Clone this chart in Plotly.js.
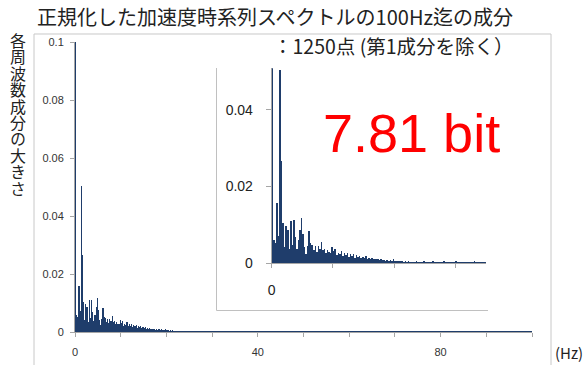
<!DOCTYPE html>
<html>
<head>
<meta charset="utf-8">
<script src="https://cdn.plot.ly/plotly-3.0.1.min.js"></script>
<style>
  html, body { margin: 0; padding: 0; background: #ffffff; }
  #chart { width: 585px; height: 365px; }
</style>
</head>
<body>
<div id="chart"></div>
<script>
// Normalised acceleration spectrum, bins of 0.25 Hz from 0 Hz up to 100 Hz.
const binStartHz = 0;
const binWidthHz = 0.25;

// 0 – 9.75 Hz
const band0to10 = [
  .1, .006, .0052, .0158, .0072, .0503, .0266, .0104, .0042, .0098,
  .0086, .0036, .011, .0048, .0112, .0068, .0038, .006, .0086, .0118,
  .0077, .0042, .0024, .0045, .0083, .0052, .0047, .0034, .0044, .003,
  .0046, .0038, .0055, .0034, .0038, .0026, .0035, .0029, .0027, .0042
];

// 10 – 22.75 Hz
const band10to23 = [
  .0032, .0037, .0022, .0028, .0023, .0033, .0019, .0028, .0022, .0026,
  .0017, .0025, .0019, .0023, .0014, .0022, .0016, .0019, .0013, .0017,
  .0014, .0018, .0011, .0014, .0012, .0015, .001, .0012, .001, .0011,
  .0008, .001, .0008, .0009, .0007, .0009, .0006, .0008, .0006, .001,
  .0006, .0007, .0005, .0006, .0005, .0006, .0004, .0005, .0004, .0005,
  .0003, .0004
];

// 23 – 34.75 Hz
const band23to35 = [
  .0004, .0003, .0005, .0003, .0004, .0004, .0003, .0005, .0003, .0004, .0003, .0004,
  .0003, .0005, .0003, .0003, .0004, .0003, .0004, .0003, .0005, .0003, .0003, .0004,
  .0003, .0004, .0003, .0003, .0005, .0003, .0004, .0003, .0003, .0004, .0003, .0004,
  .0003, .0003, .0004, .0003, .0005, .0003, .0003, .0004, .0003, .0003, .0004, .0003
];

// 35 – 99.75 Hz
const band35to100 = [
  .0003, .0002, .0004, .0003, .0002, .0003, .0003, .0002, .0004, .0002, .0003, .0003, .0002, .0003, .0004, .0002, .0003, .0002, .0003, .0003,
  .0002, .0003, .0005, .0002, .0003, .0002, .0003, .0002, .0004, .0003, .0002, .0003, .0002, .0003, .0002, .0004, .0002, .0003, .0002, .0003,
  .0003, .0002, .0003, .0002, .0004, .0002, .0003, .0002, .0003, .0002, .0003, .0005, .0002, .0003, .0002, .0003, .0002, .0003, .0004, .0002,
  .0002, .0003, .0002, .0003, .0002, .0004, .0002, .0003, .0002, .0003, .0002, .0003, .0002, .0004, .0003, .0002, .0003, .0002, .0003, .0002,
  .0003, .0002, .0004, .0002, .0003, .0002, .0002, .0003, .0002, .0005, .0002, .0003, .0002, .0003, .0002, .0003, .0002, .0004, .0002, .0003,
  .0002, .0003, .0002, .0003, .0002, .0003, .0004, .0002, .0003, .0002, .0003, .0002, .0002, .0003, .0002, .0004, .0002, .0003, .0002, .0003,
  .0002, .0004, .0002, .0003, .0002, .0003, .0002, .0002, .0003, .0002, .0003, .0005, .0002, .0003, .0002, .0003, .0002, .0003, .0002, .0004,
  .0002, .0003, .0002, .0003, .0002, .0002, .0004, .0002, .0003, .0002, .0003, .0002, .0003, .0002, .0003, .0002, .0004, .0002, .0003, .0002,
  .0003, .0002, .0003, .0002, .0004, .0002, .0003, .0002, .0002, .0003, .0002, .0003, .0002, .0004, .0002, .0003, .0002, .0003, .0005, .0002,
  .0002, .0003, .0002, .0003, .0002, .0004, .0002, .0003, .0002, .0003, .0002, .0002, .0003, .0002, .0004, .0002, .0003, .0002, .0003, .0002,
  .0003, .0002, .0004, .0002, .0003, .0002, .0003, .0002, .0002, .0003, .0002, .0004, .0002, .0003, .0002, .0003, .0002, .0003, .0002, .0004,
  .0002, .0003, .0002, .0003, .0005, .0002, .0003, .0002, .0003, .0002, .0003, .0002, .0004, .0002, .0003, .0002, .0003, .0002, .0003, .0002,
  .0003, .0002, .0003, .0002, .0004, .0002, .0003, .0002, .0003, .0002, .0003, .0002, .0004, .0002, .0003, .0002, .0003, .0002, .0003, .0002
];

const spectrum = band0to10.concat(band10to23, band23to35, band35to100);

// Axis ticks
const mainXTickVals = [0, 10, 20, 30, 40, 50, 60, 70, 80, 90, 100];
const mainXTickText = ['0', '', '', '', '40', '', '', '', '80', '', ''];
const mainYTickVals = [0, 0.02, 0.04, 0.06, 0.08, 0.1];
const mainYTickText = ['0', '0.02', '0.04', '0.06', '0.08', '0.1'];
const insetXTickVals = [0, 10, 20, 30];
const insetXTickText = ['0', '', '', ''];
const insetYTickVals = [0, 0.02, 0.04];
const insetYTickText = ['0', '0.02', '0.04'];

// Texts
const titleLine1 = '正規化した加速度時系列スペクトルの100Hz迄の成分';
const titleLine2 = '：1250点 (第1成分を除く）';
const yAxisLabel = '各周波数成分の大きさ';
const xAxisUnit = '(Hz)';
const entropyLabel = '7.81 bit';

const JP = '"Noto Sans CJK JP", "Noto Sans", sans-serif';
const LAT = '"Liberation Sans", Arial, sans-serif';
const barColor = '#1f3d6b';
const axisGrey = '#a6a6a6';

const barTrace = (xa, ya) => ({
  type: 'bar',
  x0: binStartHz,
  dx: binWidthHz,
  y: spectrum,
  width: binWidthHz,
  offset: 0,
  xaxis: xa,
  yaxis: ya,
  marker: { color: barColor, line: { width: 0 } },
  hoverinfo: 'skip'
});

const data = [barTrace('x', 'y'), barTrace('x2', 'y2')];

const layout = {
  width: 585,
  height: 365,
  margin: { l: 75, r: 53, t: 42, b: 33 },
  paper_bgcolor: '#ffffff',
  plot_bgcolor: 'rgba(0,0,0,0)',
  showlegend: false,
  bargap: 0,
  title: {
    text: titleLine1,
    font: { family: JP, size: 20, color: '#222' },
    xref: 'container', yref: 'container',
    x: 37 / 585, xanchor: 'left',
    y: 1 - 18 / 365, yanchor: 'middle'
  },
  xaxis: {
    range: [0, 100],
    tickvals: mainXTickVals, ticktext: mainXTickText,
    ticks: 'outside', ticklen: 4, tickcolor: axisGrey,
    showline: true, linecolor: axisGrey, linewidth: 1,
    showgrid: false, zeroline: false,
    tickfont: { family: LAT, size: 11, color: '#333' },
    ticklabelstandoff: 6
  },
  yaxis: {
    range: [0, 0.1],
    tickvals: mainYTickVals, ticktext: mainYTickText,
    ticks: 'outside', ticklen: 4, tickcolor: axisGrey,
    showline: true, linecolor: axisGrey, linewidth: 1,
    showgrid: false, zeroline: false,
    tickfont: { family: LAT, size: 11, color: '#333' },
    ticklabelstandoff: 4
  },
  xaxis2: {
    anchor: 'y2',
    domain: [0.4304, 0.8993],
    range: [0, 35],
    tickvals: insetXTickVals, ticktext: insetXTickText,
    ticks: 'outside', ticklen: 4, tickcolor: axisGrey,
    showline: true, linecolor: axisGrey, linewidth: 1,
    showgrid: false, zeroline: false,
    tickfont: { family: LAT, size: 14, color: '#222' },
    ticklabelstandoff: 10
  },
  yaxis2: {
    anchor: 'x2',
    domain: [0.2369, 0.9093],
    range: [0, 0.0508],
    tickvals: insetYTickVals, ticktext: insetYTickText,
    ticks: 'outside', ticklen: 5, tickcolor: axisGrey,
    showline: true, linecolor: axisGrey, linewidth: 1,
    showgrid: false, zeroline: false,
    tickfont: { family: LAT, size: 14, color: '#222' },
    ticklabelstandoff: 10
  },
  shapes: [
    // outer chart frame
    { type: 'rect', xref: 'paper', yref: 'paper',
      x0: -0.0897, x1: 1.0416, y0: -0.3, y1: 1.0276,
      line: { color: '#c8c8c8', width: 1 }, fillcolor: 'rgba(0,0,0,0)', layer: 'below' },
    // inset frame: left and bottom edges
    { type: 'line', xref: 'paper', yref: 'paper',
      x0: 0.3096, x1: 0.3096, y0: 0.0741, y1: 0.9103,
      line: { color: '#c0c0c0', width: 1 } },
    { type: 'line', xref: 'paper', yref: 'paper',
      x0: 0.3096, x1: 0.9037, y0: 0.0741, y1: 0.0741,
      line: { color: '#c0c0c0', width: 1 } }
  ],
  annotations: [
    { text: titleLine2, xref: 'paper', yref: 'paper',
      x: (516 - 75) / 457, y: (332 - 45) / 290,
      xanchor: 'right', yanchor: 'middle', showarrow: false,
      font: { family: JP, size: 19.5, color: '#222' } },
    { text: entropyLabel, xref: 'paper', yref: 'paper',
      x: (411 - 75) / 457, y: (332 - 133) / 290,
      xanchor: 'center', yanchor: 'middle', showarrow: false,
      font: { family: LAT, size: 54, color: '#ff0000' } },
    { text: xAxisUnit, xref: 'paper', yref: 'paper',
      x: (569 - 75) / 457, y: (332 - 352) / 290,
      xanchor: 'center', yanchor: 'middle', showarrow: false,
      font: { family: JP, size: 15, color: '#222' } },
    // y-axis caption, turned into upright vertical writing after drawing
    { text: yAxisLabel, xref: 'paper', yref: 'paper',
      x: (18 - 75) / 457, y: (332 - 115) / 290,
      xanchor: 'center', yanchor: 'middle', showarrow: false,
      font: { family: JP, size: 16, color: '#222' } }
  ]
};

Plotly.newPlot('chart', data, layout, { displayModeBar: false, staticPlot: true }).then(gd => {
  // Set the y caption in vertical (tategaki) writing, centred where it was placed
  const texts = gd.querySelectorAll('.annotation-text');
  texts.forEach(el => {
    if (el.textContent !== yAxisLabel) return;
    const bb = el.getBBox();
    const cx = bb.x + bb.width / 2;
    const cy = bb.y + bb.height / 2;
    el.querySelectorAll('tspan').forEach(t => { t.removeAttribute('x'); t.removeAttribute('y'); t.removeAttribute('dy'); });
    el.style.writingMode = 'vertical-rl';
    el.style.textOrientation = 'upright';
    el.style.letterSpacing = '0.4px';
    el.setAttribute('text-anchor', 'middle');
    el.style.textAnchor = 'middle';
    el.setAttribute('x', cx);
    el.setAttribute('y', cy);
  });
});
</script>
</body>
</html>
